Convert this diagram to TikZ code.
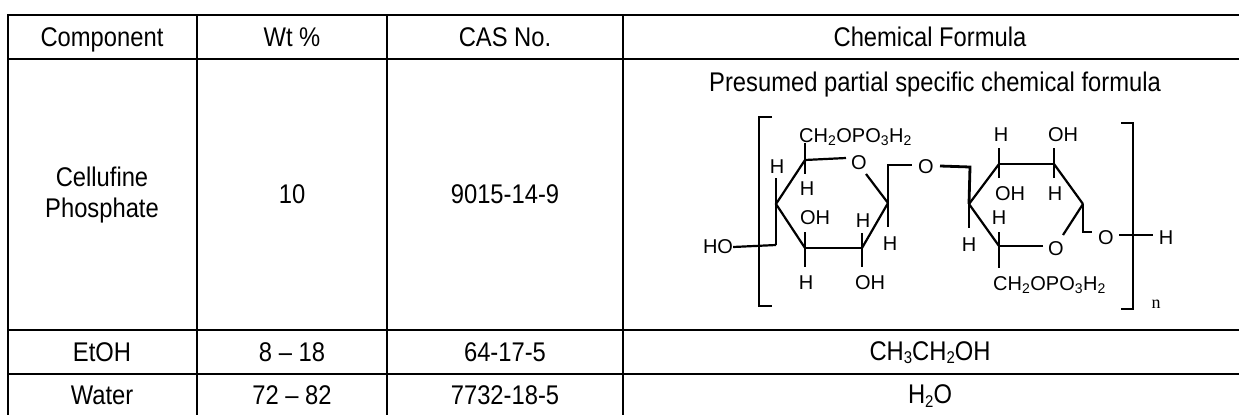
\documentclass[tikz,border=0pt]{standalone}
\usepackage{fontspec}
\setmainfont{Liberation Sans}
\newfontfamily\narrowfont[FakeStretch=0.88]{Liberation Sans}
\newfontfamily\timesfont{Liberation Serif}
\newcommand\tsub[1]{\raisebox{-0.12em}{\fontsize{17}{17}\selectfont #1}}
\begin{document}
\begin{tikzpicture}[x=1pt,y=-1pt,
  grid/.style={line width=2.6pt},
  bond/.style={line width=2.2pt},
  vbond/.style={line width=2.8pt},
  brk/.style={line width=2.8pt},
  cell/.style={font=\narrowfont\fontsize{27}{31}\selectfont, align=center, inner sep=0pt},
  atom/.style={font=\fontsize{20}{22}\selectfont, inner sep=0pt},
  grp/.style={font=\fontsize{20}{22}\selectfont, inner sep=0pt, anchor=base west},
]
\useasboundingbox (0,0) rectangle (1239,415);
% ---------- table grid ----------
\draw[grid] (8,15) -- (1239,15);
\draw[grid] (8,59) -- (1239,59);
\draw[grid] (8,330) -- (1239,330);
\draw[grid] (8,374) -- (1239,374);
\draw[grid] (8,14) -- (8,415);
\draw[grid] (197,14) -- (197,415);
\draw[grid] (387,14) -- (387,415);
\draw[grid] (623,14) -- (623,415);
% ---------- table text ----------
\node[cell] (h1) at (102,39.5) {Component};
\node[cell] (h2) at (292,37) {Wt \%};
\node[cell] (h3) at (505,37) {CAS No.};
\node[cell] (h4) at (930,37) {Chemical Formula};
\node[cell] (r1a) at (102,195) {Cellufine\\Phosphate};
\node[cell] (r1b) at (292,194) {10};
\node[cell] (r1c) at (505,194) {9015-14-9};
\node[cell] (r1d) at (935,85) {Presumed partial specific chemical formula};
\node[cell] (r2a) at (102,352) {EtOH};
\node[cell] (r2b) at (292,352) {8 – 18};
\node[cell] (r2c) at (505,352) {64-17-5};
\node[cell] (r2d) at (930,353) {CH\tsub{3}CH\tsub{2}OH};
\node[cell] (r3a) at (102,395) {Water};
\node[cell] (r3b) at (292,395) {72 – 82};
\node[cell] (r3c) at (505,395) {7732-18-5};
\node[cell] (r3d) at (930,396) {H\tsub{2}O};
% ---------- brackets ----------
\coordinate (lb1) at (772,117);
\coordinate (lb2) at (759,117);
\coordinate (lb3) at (759,306);
\coordinate (lb4) at (772,306);
\draw[brk] (lb1) -- (lb2) -- (lb3) -- (lb4);
\coordinate (rb1) at (1121,123);
\coordinate (rb2) at (1133,123);
\coordinate (rb3) at (1133,309);
\coordinate (rb4) at (1121,309);
\draw[brk] (rb1) -- (rb2) -- (rb3) -- (rb4);
\node[font=\timesfont\fontsize{18}{19}\selectfont, inner sep=0pt] (nn) at (1156,304) {n};
% ---------- ring 1 ----------
\coordinate (a4) at (776,204);
\coordinate (a5) at (805,160);
\coordinate (a1) at (888,203);
\coordinate (a2) at (862,248);
\coordinate (a3) at (805,248);
\node[atom] (ho) at (718,247) {HO};
\coordinate (hoc) at (776,245);
\node[atom] (h4) at (777,167) {H};
\coordinate (h4b) at (776,178);
\draw[bond] (ho.east) -- (hoc);
\draw[vbond] (hoc) -- (a4) -- (h4b);
\node[grp] (g1) at (799,142.5) {CH\textsubscript{2}OPO\textsubscript{3}H\textsubscript{2}};
\coordinate (g1b) at (805,143);
\draw[vbond] (a5) -- (g1b);
\node[atom] (h5) at (807,189) {H};
\coordinate (h5b) at (805,174);
\draw[vbond] (a5) -- (h5b);
\node[atom] (o5) at (859,163) {O};
\coordinate (o5w) at (846,158);
\draw[bond] (a5) -- (o5w);
\coordinate (o5se) at (866,174);
\draw[bond] (o5se) -- (a1);
\coordinate (a1u) at (888,165);
\coordinate (og1) at (912,165);
\draw[vbond] (a1) -- (a1u) -- (og1);
\node[atom] (og) at (926,167) {O};
\coordinate (h1b) at (888,227);
\draw[vbond] (a1) -- (h1b);
\node[atom] (h1) at (890,244) {H};
\draw[bond] (a1) -- (a2);
\coordinate (h2b) at (862,233);
\node[atom] (h2) at (863,221) {H};
\coordinate (oh2b) at (862,267);
\node[atom] (oh2) at (870,283) {OH};
\draw[vbond] (h2b) -- (a2) -- (oh2b);
\draw[vbond] (a2) -- (a3);
\coordinate (oh3b) at (805,232);
\node[atom] (oh3) at (815,218) {OH};
\coordinate (h3b) at (805,267);
\node[atom] (h3) at (806,283) {H};
\draw[vbond] (oh3b) -- (a3) -- (h3b);
\draw[bond] (a3) -- (a4) -- (a5);
% ---------- ring 2 ----------
\coordinate (b4) at (969,204);
\coordinate (b3) at (999,164);
\coordinate (b2) at (1054,164);
\coordinate (b1) at (1083,204);
\coordinate (b5) at (999,246);
\coordinate (oge) at (940,166);
\coordinate (b4u) at (970,167);
\draw[vbond] (oge) -- (b4u) -- (b4);
\coordinate (hb4b) at (969,228);
\draw[vbond] (b4) -- (hb4b);
\node[atom] (hb4) at (969,245) {H};
\draw[bond] (b4) -- (b3);
\coordinate (hb3t) at (999,148);
\node[atom] (hb3) at (1001,135) {H};
\coordinate (ohb3b) at (999,178);
\node[atom] (ohb3) at (1010,194) {OH};
\draw[vbond] (hb3t) -- (b3) -- (ohb3b);
\draw[vbond] (b3) -- (b2);
\coordinate (ohb2t) at (1054,148);
\node[atom] (ohb2) at (1063,135) {OH};
\coordinate (hb2b) at (1054,178);
\node[atom] (hb2) at (1055,194) {H};
\draw[vbond] (ohb2t) -- (b2) -- (hb2b);
\draw[bond] (b2) -- (b1);
\coordinate (b1d) at (1083,232);
\coordinate (ob1w) at (1092,232);
\draw[vbond] (b1) -- (b1d) -- (ob1w);
\node[atom] (ot) at (1106,238) {O};
\coordinate (ote) at (1119,235);
\coordinate (htw) at (1153,235);
\draw[bond] (ote) -- (htw);
\node[atom] (ht) at (1166,238) {H};
\coordinate (ob5ne) at (1063,235);
\draw[bond] (b1) -- (ob5ne);
\node[atom] (ob5) at (1056,249) {O};
\coordinate (ob5w) at (1043,246);
\draw[vbond] (ob5w) -- (b5);
\coordinate (hb5t) at (999,232);
\node[atom] (hb5) at (999,218) {H};
\coordinate (gb5) at (999,268);
\draw[vbond] (hb5t) -- (b5) -- (gb5);
\node[grp] (g2) at (993,290) {CH\textsubscript{2}OPO\textsubscript{3}H\textsubscript{2}};
\draw[bond] (b5) -- (b4);
\end{tikzpicture}
\end{document}
